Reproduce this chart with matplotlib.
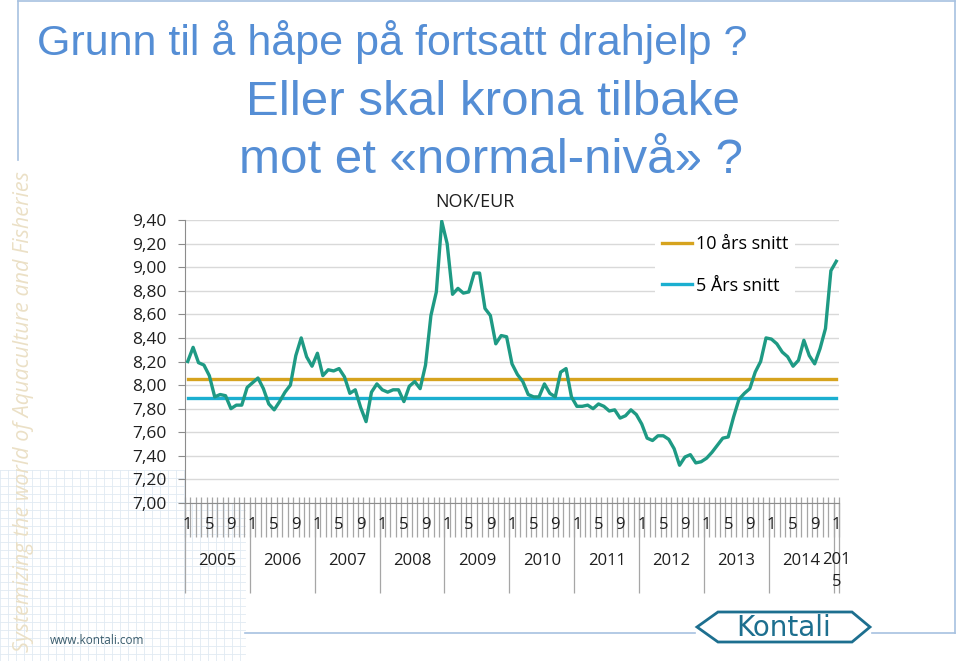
import numpy as np
import matplotlib
matplotlib.use("Agg")
import matplotlib.pyplot as plt
from matplotlib.patches import Polygon, Rectangle

# NOK/EUR monthly, Jan 2005 .. Jan 2015
nok_eur = [
    8.20, 8.32, 8.19, 8.17, 8.08, 7.90, 7.92, 7.91, 7.80, 7.83, 7.83, 7.98,   # 2005
    8.02, 8.06, 7.97, 7.84, 7.79, 7.86, 7.94, 8.00, 8.25, 8.40, 8.24, 8.16,   # 2006
    8.27, 8.08, 8.13, 8.12, 8.14, 8.07, 7.93, 7.96, 7.81, 7.69, 7.94, 8.01,   # 2007
    7.96, 7.94, 7.96, 7.96, 7.86, 7.99, 8.03, 7.97, 8.17, 8.59, 8.79, 9.39,   # 2008
    9.20, 8.77, 8.82, 8.78, 8.79, 8.95, 8.95, 8.65, 8.59, 8.35, 8.42, 8.41,   # 2009
    8.18, 8.09, 8.03, 7.92, 7.90, 7.90, 8.01, 7.93, 7.90, 8.11, 8.14, 7.90,   # 2010
    7.82, 7.82, 7.83, 7.80, 7.84, 7.82, 7.78, 7.79, 7.72, 7.74, 7.79, 7.75,   # 2011
    7.67, 7.55, 7.53, 7.57, 7.57, 7.54, 7.46, 7.32, 7.39, 7.41, 7.34, 7.35,   # 2012
    7.38, 7.43, 7.49, 7.55, 7.56, 7.73, 7.88, 7.93, 7.97, 8.11, 8.20, 8.40,   # 2013
    8.39, 8.35, 8.28, 8.24, 8.16, 8.21, 8.38, 8.25, 8.18, 8.31, 8.48, 8.97,   # 2014
    9.05,                                                                     # 2015
]
snitt_10 = 8.05
snitt_5 = 7.89
years = [2005, 2006, 2007, 2008, 2009, 2010, 2011, 2012, 2013, 2014, 2015]
month_labels = ["1", "5", "9"]
y_ticks = [7.0, 7.2, 7.4, 7.6, 7.8, 8.0, 8.2, 8.4, 8.6, 8.8, 9.0, 9.2, 9.4]

title_lines = ["Grunn til å håpe på fortsatt drahjelp ?",
               "Eller skal krona tilbake",
               "mot et «normal-nivå» ?"]

W, H = 960, 661
TEAL = "#1E9A84"
GOLD = "#D6A31E"
CYAN = "#1BAFD0"
TXT = "#1F1F1F"
GRAY = "#8C8C8C"
FONT = "Open Sans"
BLUE = "#558ED5"

fig = plt.figure(figsize=(W / 100, H / 100), dpi=100)

# background layer in pixel coordinates (slide decoration)
bg = fig.add_axes([0, 0, 1, 1], zorder=-10)
bg.set_xlim(0, W)
bg.set_ylim(H, 0)
bg.axis("off")

# faint grid paper in the lower left corner
for gx in np.arange(0, 246, 8):
    bg.plot([gx, gx], [470, H], color="#E1EAF2", lw=0.6)
for gy in np.arange(470, H, 8):
    bg.plot([0, 245], [gy, gy], color="#E1EAF2", lw=0.6)
bg.add_patch(Rectangle((127, 150), 780, 443, facecolor="white", edgecolor="none"))

# slide frame
fc = "#A7C1E0"
bg.plot([18, 955], [1, 1], color=fc, lw=1.2)
bg.plot([955, 955], [1, 633], color=fc, lw=1.2)
bg.plot([18, 18], [1, 160], color=fc, lw=1.2)
bg.plot([245, 695], [633, 633], color=fc, lw=1.2)
bg.plot([872, 955], [633, 633], color=fc, lw=1.2)

bg.text(24, 652, "Systemizing the world of Aquaculture and Fisheries",
        rotation=90, ha="center", va="bottom", fontsize=15.5, style="italic",
        family=FONT, color="#EBE0C6")
bg.text(50, 640, "www.kontali.com", ha="left", va="center", fontsize=8.5,
        family=FONT, color="#3A5C6C")

# Kontali logo
logo = [(697, 627), (718, 612), (852, 612), (870, 627), (852, 642), (718, 642)]
bg.add_patch(Polygon(logo, closed=True, facecolor="white", edgecolor="#1D6F8F", lw=2))
bg.text(784, 628, "Kontali", ha="center", va="center", fontsize=20,
        family="DejaVu Sans", color="#1D6F8F")

# title
bg.text(37, 55, title_lines[0], ha="left", va="baseline", fontsize=31,
        family="Liberation Sans", color=BLUE)
bg.text(493, 115, title_lines[1], ha="center", va="baseline", fontsize=35.5,
        family="Liberation Sans", color=BLUE)
bg.text(491, 173, title_lines[2], ha="center", va="baseline", fontsize=35.5,
        family="Liberation Sans", color=BLUE)

# chart
ax = fig.add_axes([185 / W, 1 - 503 / H, 654 / W, 283 / H])
months = np.arange(len(nok_eur))
ax.set_xlim(months[0] - 0.5, months[-1] + 0.5)
ax.set_ylim(y_ticks[0], y_ticks[-1])

ax.set_yticks(y_ticks)
ax.set_yticklabels([f"{v:.2f}".replace(".", ",") for v in y_ticks],
                   fontsize=12.5, family=FONT, color=TXT)
ax.yaxis.grid(True, color="#D9D9D9", lw=1)
ax.set_axisbelow(True)
ax.tick_params(axis="y", length=5, color=GRAY, pad=8)
ax.set_xticks([])
for s in ["top", "right"]:
    ax.spines[s].set_visible(False)
ax.spines["left"].set_color(GRAY)
ax.spines["bottom"].set_color(GRAY)

l10, = ax.plot([months[0], months[-1]], [snitt_10, snitt_10], color=GOLD, lw=2.4, zorder=3)
l5, = ax.plot([months[0], months[-1]], [snitt_5, snitt_5], color=CYAN, lw=2.4, zorder=3)
ax.plot(months, nok_eur, color=TEAL, lw=2.4, zorder=4, solid_joinstyle="round")

# multi-level category axis
xt = ax.get_xaxis_transform()
ah = 283.0
bounds = np.arange(months[0] - 0.5, months[-1] + 1.0, 1.0)
ax.vlines(bounds, -34 / ah, 6 / ah, transform=xt, color="#A6A6A6", lw=0.9, clip_on=False)
year_bounds = [b for b in bounds if (b + 0.5) % 12 == 0] + [bounds[-1]]
ax.vlines(year_bounds, -90 / ah, 0, transform=xt, color="#A6A6A6", lw=0.9, clip_on=False)

for i, yr in enumerate(years):
    start = 12 * i
    for k, lab in enumerate(month_labels):
        m = start + 4 * k
        if m <= months[-1]:
            ax.text(m, -22 / ah, lab, transform=xt, ha="center", va="center",
                    fontsize=12, family=FONT, color=TXT)
    if yr < years[-1]:
        ax.text(start + 5.5, -58 / ah, str(yr), transform=xt, ha="center", va="center",
                fontsize=12, family=FONT, color=TXT)
    else:
        ax.text(start, -49 / ah, str(yr)[:3] + "\n" + str(yr)[3:], transform=xt,
                ha="center", va="top", fontsize=12, family=FONT, color=TXT,
                linespacing=1.5)

fig.text(475 / W, 1 - 202 / H, "NOK/EUR", ha="center", va="center", fontsize=13,
         family=FONT, color=TXT)

ax.legend([l10, l5], ["10 års snitt", "5 Års snitt"], loc="upper left",
          bbox_to_anchor=(655 / W, 1 - 228 / H), bbox_transform=fig.transFigure,
          frameon=True, facecolor="white", edgecolor="none", framealpha=1,
          fancybox=False, prop={"family": FONT, "size": 13},
          handlelength=1.65, handletextpad=0.2, labelspacing=1.3, borderaxespad=0,
          borderpad=0.4)

fig.savefig("out.png", dpi=100, facecolor="white")
